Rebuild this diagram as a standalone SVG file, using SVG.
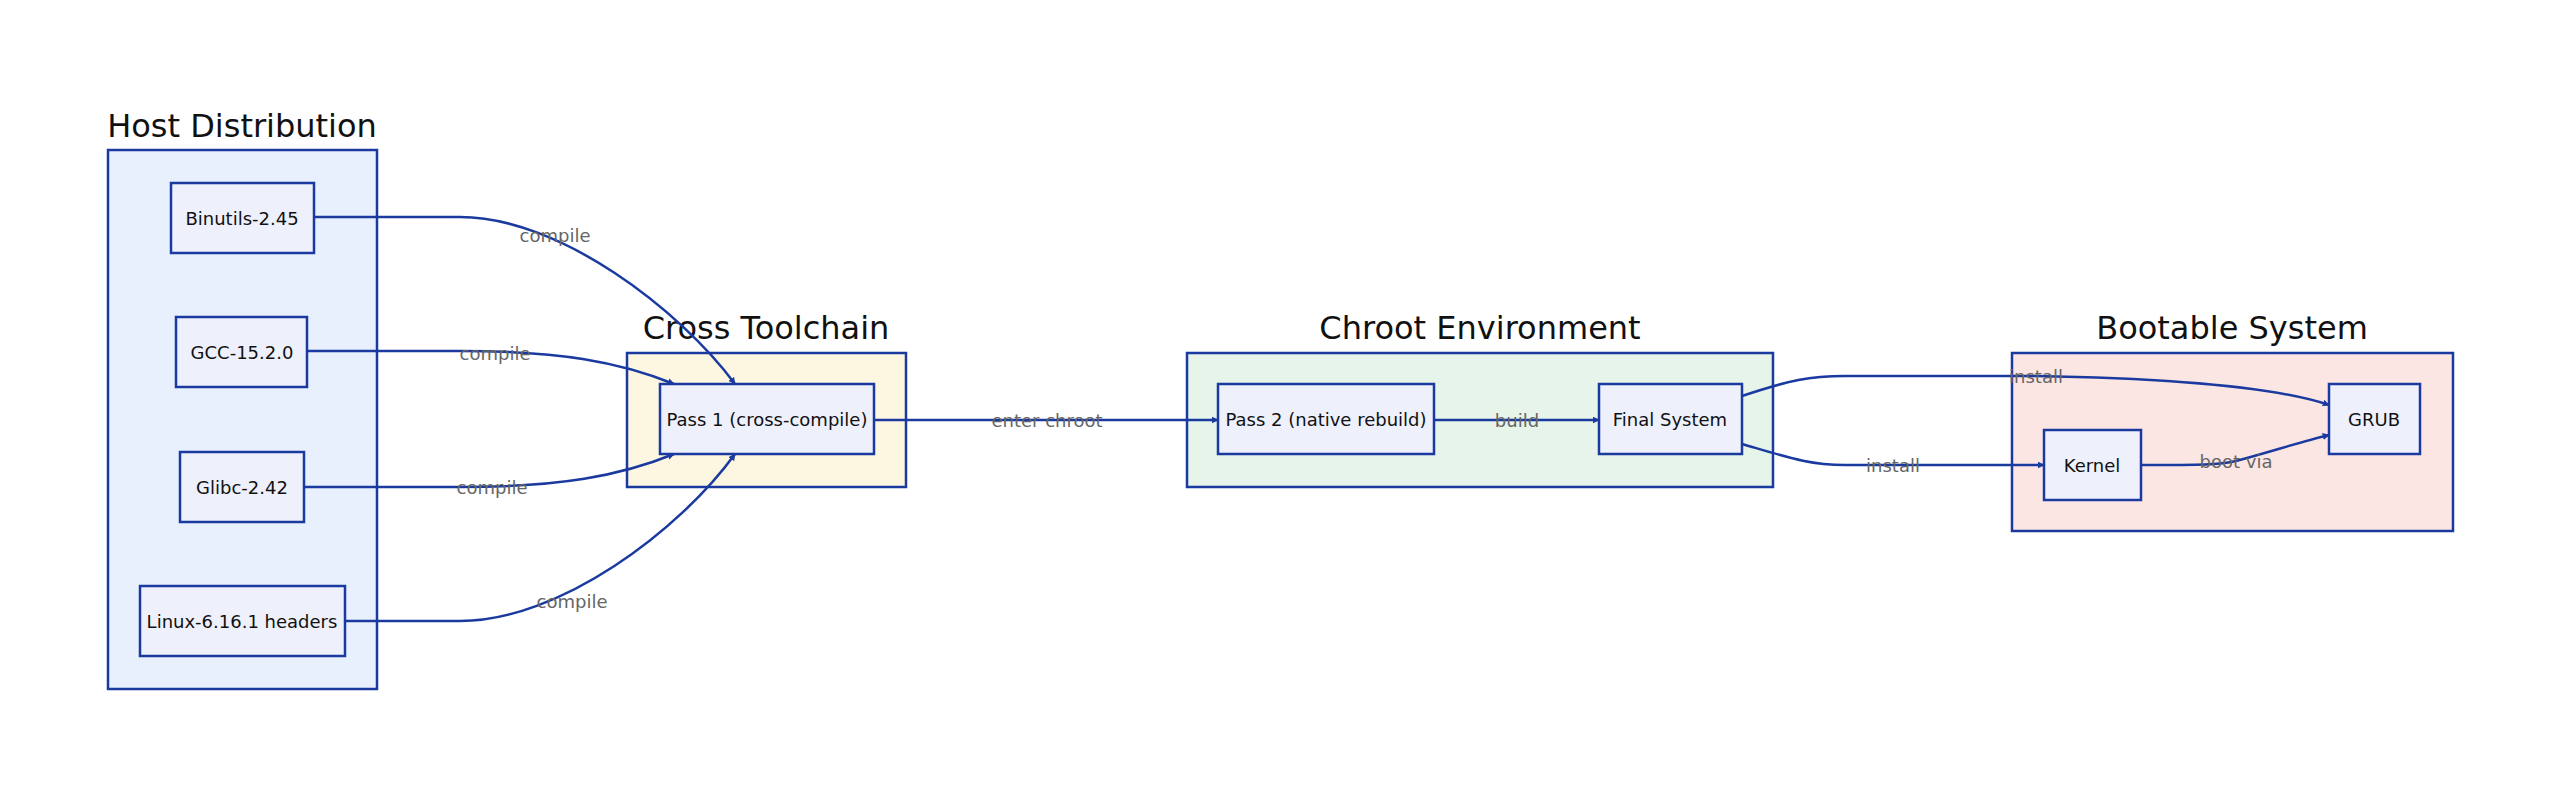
<svg xmlns="http://www.w3.org/2000/svg" width="2560" height="796" viewBox="0 0 2560 796">
<defs>
<marker id="ah" viewBox="0 0 10 10" refX="9" refY="5" markerWidth="7" markerHeight="7" orient="auto-start-reverse" markerUnits="userSpaceOnUse"><path d="M0,0 L10,5 L0,10 z" fill="#1a3aa0"/></marker>
</defs>
<style>
text{font-family:"DejaVu Sans","Liberation Sans",sans-serif}
.title{font-size:32px;fill:#111;text-anchor:middle}
.node rect{fill:#eef0fc;stroke:#1a3aa0;stroke-width:2.5}
.node text{font-size:18px;fill:#111;text-anchor:middle;dominant-baseline:central}
.grp{stroke:#1a3aa0;stroke-width:2.5}
.edge{fill:none;stroke:#1a3aa0;stroke-width:2.5}
.lbl{font-size:18px;fill:#666;text-anchor:middle;dominant-baseline:central}
</style>
<rect width="2560" height="796" fill="#fff"/>
<g id="host"><rect class="grp" x="108" y="150" width="269" height="539" fill="#e8f0fe"/><text class="title" x="242" y="137">Host Distribution</text></g>
<g id="cross"><rect class="grp" x="627" y="353" width="279" height="134" fill="#fdf6e0"/><text class="title" x="766" y="339">Cross Toolchain</text></g>
<g id="chroot"><rect class="grp" x="1187" y="353" width="586" height="134" fill="#e6f4ea"/><text class="title" x="1480" y="339">Chroot Environment</text></g>
<g id="boot"><rect class="grp" x="2012" y="353" width="441" height="178" fill="#fce6e4"/><text class="title" x="2232" y="339">Bootable System</text></g>
<g id="edges">
<path class="edge" d="M314,217 L460,217 C560,217 680,310 735,384" marker-end="url(#ah)"/>
<path class="edge" d="M307,351 L460,351 C560,351 620,362 674,384" marker-end="url(#ah)"/>
<path class="edge" d="M304,487 L460,487 C560,487 620,476 674,454" marker-end="url(#ah)"/>
<path class="edge" d="M345,621 L460,621 C560,621 680,530 735,454" marker-end="url(#ah)"/>
<path class="edge" d="M874,420 L1218,420" marker-end="url(#ah)"/>
<path class="edge" d="M1434,420 L1599,420" marker-end="url(#ah)"/>
<path class="edge" d="M1742,396 C1790,380 1810,376 1845,376 L2036,376 C2150,378 2270,385 2329,405" marker-end="url(#ah)"/>
<path class="edge" d="M1742,444 C1790,458 1810,465 1845,465 L2044,465" marker-end="url(#ah)"/>
<path class="edge" d="M2141,465 C2200,465 2220,465 2236,461 C2270,452 2300,442 2329,435" marker-end="url(#ah)"/>
<text class="lbl" x="555" y="235">compile</text>
<text class="lbl" x="495" y="353">compile</text>
<text class="lbl" x="492" y="487">compile</text>
<text class="lbl" x="572" y="601">compile</text>
<text class="lbl" x="1047" y="420">enter chroot</text>
<text class="lbl" x="1517" y="420">build</text>
<text class="lbl" x="2036" y="376">install</text>
<text class="lbl" x="1893" y="465">install</text>
<text class="lbl" x="2236" y="461">boot via</text>
</g>
<g id="binutils" class="node"><rect x="171" y="183" width="143" height="70"/><text x="242" y="218">Binutils-2.45</text></g>
<g id="gcc" class="node"><rect x="176" y="317" width="131" height="70"/><text x="242" y="352">GCC-15.2.0</text></g>
<g id="glibc" class="node"><rect x="180" y="452" width="124" height="70"/><text x="242" y="487">Glibc-2.42</text></g>
<g id="linux" class="node"><rect x="140" y="586" width="205" height="70"/><text x="242" y="621">Linux-6.16.1 headers</text></g>
<g id="pass1" class="node"><rect x="660" y="384" width="214" height="70"/><text x="767" y="419">Pass 1 (cross-compile)</text></g>
<g id="pass2" class="node"><rect x="1218" y="384" width="216" height="70"/><text x="1326" y="419">Pass 2 (native rebuild)</text></g>
<g id="final" class="node"><rect x="1599" y="384" width="143" height="70"/><text x="1670" y="419">Final System</text></g>
<g id="grub" class="node"><rect x="2329" y="384" width="91" height="70"/><text x="2374" y="419">GRUB</text></g>
<g id="kernel" class="node"><rect x="2044" y="430" width="97" height="70"/><text x="2092" y="465">Kernel</text></g>
</svg>
